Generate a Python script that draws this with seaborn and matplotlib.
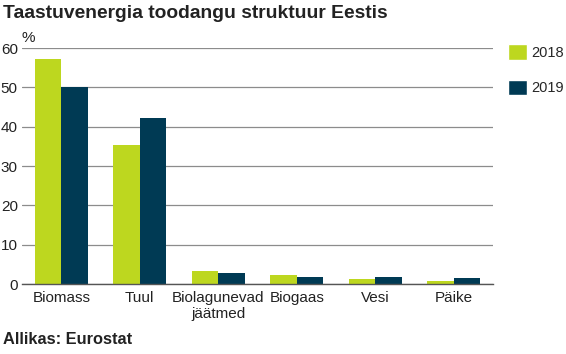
import matplotlib
matplotlib.use("Agg")
import matplotlib.pyplot as plt
import pandas as pd
import seaborn as sns
from matplotlib.patches import Patch

categories = ["Biomass", "Tuul", "Biolagunevad\njäätmed", "Biogaas", "Vesi", "Päike"]
years = ["2018", "2019"]
values_2018 = [57.1, 35.4, 3.3, 2.2, 1.3, 0.8]
values_2019 = [50.0, 42.2, 2.8, 1.8, 1.7, 1.4]
yticks = [0, 10, 20, 30, 40, 50, 60]

GREEN = "#bdd71f"
NAVY = "#003a54"

df = pd.DataFrame({
    "category": categories * 2,
    "year": [years[0]] * len(categories) + [years[1]] * len(categories),
    "value": values_2018 + values_2019,
})

sns.set_theme(style="white")
plt.rcParams["font.family"] = ["Liberation Sans", "DejaVu Sans"]

fig = plt.figure(figsize=(5.66, 3.54), dpi=100)
ax = fig.add_axes([22 / 566, 1 - 284 / 354, (493 - 22) / 566, (284 - 48) / 354])

sns.barplot(data=df, x="category", y="value", hue="year", palette=[GREEN, NAVY],
            width=0.68, saturation=1, linewidth=0, ax=ax, legend=False)

ax.set_ylim(0, 60)
ax.set_yticks(yticks)
ax.set_xlim(-0.5, len(categories) - 0.5)
ax.grid(True, axis="y", color="#8c8c8c", linewidth=0.9)
ax.set_axisbelow(True)
for side in ["left", "right", "top"]:
    ax.spines[side].set_visible(False)
ax.spines["bottom"].set_color("#555555")
ax.spines["bottom"].set_linewidth(1.0)
ax.tick_params(axis="both", length=0, labelsize=11, colors="#222222")
ax.tick_params(axis="y", pad=3)
ax.tick_params(axis="x", pad=5)
ax.set_xlabel("")
ax.set_ylabel("")
ax.text(0.0, 1.012, "%", transform=ax.transAxes, fontsize=11, color="#222222",
        va="bottom", ha="left")

fig.text(3 / 566, 1 - 13 / 354, "Taastuvenergia toodangu struktuur Eestis",
         fontsize=13.9, fontweight="bold", va="center", ha="left", color="#222222")
fig.text(3 / 566, 1 - 340 / 354, "Allikas: Eurostat",
         fontsize=11.8, fontweight="bold", va="center", ha="left", color="#222222")

handles = [Patch(facecolor=GREEN), Patch(facecolor=NAVY)]
fig.legend(handles, years, loc="upper left", bbox_to_anchor=(501 / 566, 1 - 37 / 354),
           frameon=False, fontsize=10.5, handlelength=1.25, handleheight=1.25,
           labelspacing=1.35, handletextpad=0.35, borderpad=0)

fig.savefig("out.png", dpi=100)
